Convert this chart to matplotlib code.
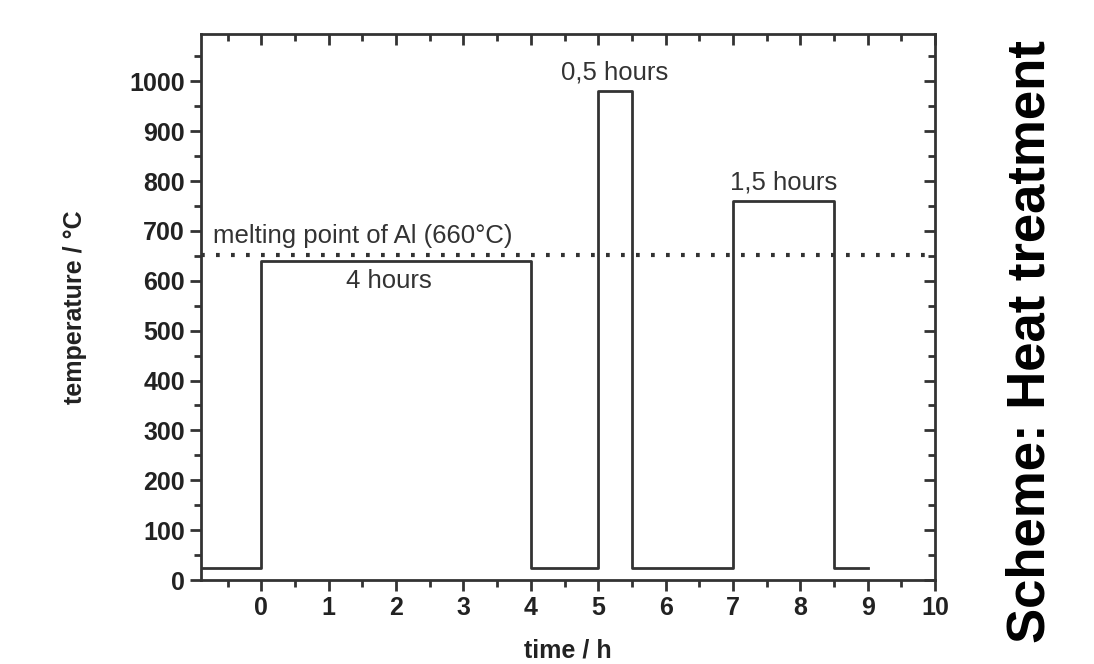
import matplotlib
matplotlib.use("Agg")
import matplotlib.pyplot as plt
from matplotlib.ticker import MultipleLocator

# heat treatment schedule (time in h, temperature in degC)
step_times = [-0.9, 0, 0, 4, 4, 5, 5, 5.5, 5.5, 7, 7, 8.5, 8.5, 9]
step_temps = [25, 25, 640, 640, 25, 25, 980, 980, 25, 25, 760, 760, 25, 25]
melting_point = 652
stage_labels = ["4 hours", "0,5 hours", "1,5 hours"]
stage_label_x = [1.9, 5.25, 7.75]
stage_label_y = [600, 1017, 797]

plt.rcParams["font.family"] = ["Liberation Sans", "DejaVu Sans"]
ink = "#333333"

fig = plt.figure(figsize=(10.94, 6.64), dpi=100)
ax = fig.add_axes([0.1835, 0.1265, 0.8547 - 0.1835, 0.9488 - 0.1265])

ax.plot(step_times, step_temps, color=ink, lw=2)
ax.axhline(melting_point, color=ink, lw=3, linestyle=(0, (0.9, 2.7)))

ax.text(-0.72, 690, "melting point of Al (660°C)",
        fontsize=18.5, color=ink, va="center", ha="left")
for lbl, x, y in zip(stage_labels, stage_label_x, stage_label_y):
    ax.text(x, y, lbl, fontsize=18.5, color=ink, ha="center", va="center")

ax.set_xlim(-0.9, 10)
ax.set_ylim(0, 1095)
ax.xaxis.set_major_locator(MultipleLocator(1))
ax.xaxis.set_minor_locator(MultipleLocator(0.5))
ax.yaxis.set_minor_locator(MultipleLocator(50))
ax.set_yticks(range(0, 1001, 100))

for side in ax.spines.values():
    side.set_linewidth(2)
    side.set_color(ink)

ax.tick_params(which="both", direction="out", width=2, color=ink,
               labelsize=18, labelcolor="#222222")
ax.tick_params(which="major", length=8)
ax.tick_params(which="minor", length=5)
for t in ax.get_xticklabels() + ax.get_yticklabels():
    t.set_fontweight("bold")

top = ax.secondary_xaxis("top")
top.xaxis.set_major_locator(MultipleLocator(1))
top.xaxis.set_minor_locator(MultipleLocator(0.5))
top.tick_params(which="both", direction="in", width=2, color=ink, labeltop=False)
top.tick_params(which="major", length=8)
top.tick_params(which="minor", length=5)
top.spines["top"].set_visible(False)

right = ax.secondary_yaxis("right")
right.yaxis.set_major_locator(MultipleLocator(100))
right.yaxis.set_minor_locator(MultipleLocator(50))
right.tick_params(which="both", direction="in", width=2, color=ink, labelright=False)
right.tick_params(which="major", length=8)
right.tick_params(which="minor", length=5)
right.spines["right"].set_visible(False)

ax.set_xlabel("time / h", fontsize=18, fontweight="bold", labelpad=13, color="#222222")
ax.set_ylabel("temperature / °C", fontsize=18, fontweight="bold", labelpad=30, color="#222222")

fig.text(0.942, 0.485, "Scheme: Heat treatment", rotation=90, fontsize=38,
         fontweight="bold", ha="center", va="center", color="black")

fig.savefig("out.png", dpi=100)
